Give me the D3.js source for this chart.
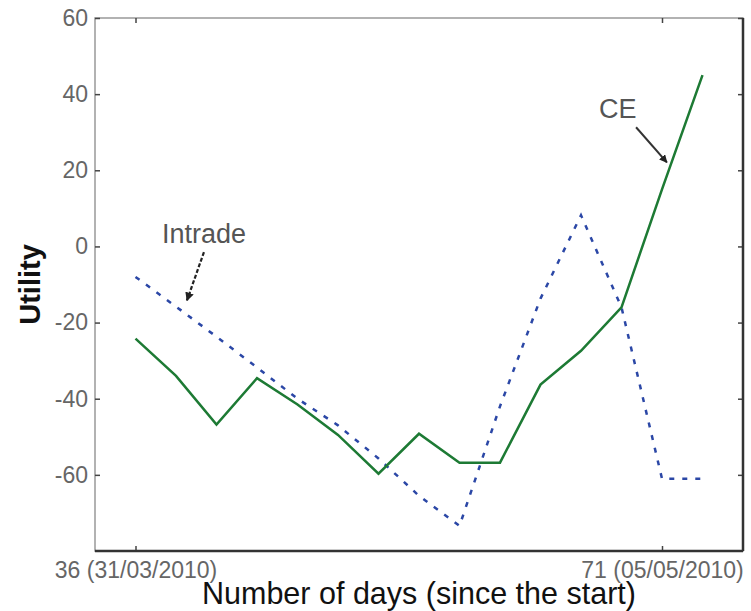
<!DOCTYPE html>
<html>
<head>
<meta charset="utf-8">
<script src="https://cdn.jsdelivr.net/npm/d3@7"></script>
<style>
    body { margin: 0; background: #fff; }
    text { font-family: "Liberation Sans", Arial, sans-serif; }
</style>
</head>
<body>
<svg id="chart" width="751" height="611"></svg>
<script>
// sample index (x), utility values
let points = [1, 2, 3, 4, 5, 6, 7, 8, 9, 10, 11, 12, 13, 14, 15];
let ce = [-24.2, -34, -46.8, -34.6, -41.5, -49.5, -59.7, -49.2, -56.8, -56.8, -36.3, -27.4, -16, 15, 45];
let intrade = [-8, -15.8, -23.7, -31.8, -40, -47, -55.7, -65.5, -73.4, -42, -13.7, 8.2, -16, -61, -61];

let x_ticks = [1, 14];
let x_tick_labels = ["36 (31/03/2010)", "71 (05/05/2010)"];
let y_ticks = [-60, -40, -20, 0, 20, 40, 60];

let width = 751, height = 611;
let margin = { top: 18, right: 8, bottom: 60, left: 95 };
let font = '"Liberation Sans", Arial, sans-serif';

let svg = d3.select("#chart");

let x = d3.scaleLinear()
    .domain([0, 16])
    .range([margin.left, width - margin.right]);
let y = d3.scaleLinear()
    .domain([-80, 60])
    .range([height - margin.bottom, margin.top]);

// arrow heads
let defs = svg.append("defs");
defs.append("marker")
    .attr("id", "head")
    .attr("viewBox", "0 0 10 10")
    .attr("refX", 9).attr("refY", 5)
    .attr("markerWidth", 4).attr("markerHeight", 4)
    .attr("orient", "auto")
    .append("path")
    .attr("d", "M0,0 L10,5 L0,10 z")
    .attr("fill", "#222");

// frame: light top/left, dark bottom/right
svg.append("rect")
    .attr("x", x.range()[0])
    .attr("y", y.range()[1])
    .attr("width", x.range()[1] - x.range()[0])
    .attr("height", y.range()[0] - y.range()[1])
    .attr("fill", "none")
    .attr("stroke", "#999")
    .attr("stroke-width", 1.5);

let y_axis = d3.axisLeft(y).tickValues(y_ticks).tickSize(-5).tickPadding(7)
    .tickFormat(d => String(d));
svg.append("g")
    .attr("transform", `translate(${margin.left},0)`)
    .call(y_axis)
    .call(g => g.select(".domain").remove());

svg.append("g")
    .attr("transform", `translate(${width - margin.right},0)`)
    .call(d3.axisRight(y).tickValues(y_ticks).tickSize(-5).tickFormat(""))
    .call(g => g.select(".domain").remove());

let x_axis = d3.axisBottom(x).tickValues(x_ticks).tickSize(-5).tickPadding(11)
    .tickFormat((d, i) => x_tick_labels[i]);
svg.append("g")
    .attr("transform", `translate(0,${height - margin.bottom})`)
    .call(x_axis)
    .call(g => g.select(".domain").remove());

svg.append("g")
    .attr("transform", `translate(0,${margin.top})`)
    .call(d3.axisTop(x).tickValues(x_ticks).tickSize(-5).tickFormat(""))
    .call(g => g.select(".domain").remove());

svg.selectAll("g").attr("font-family", font);
svg.selectAll(".tick line").attr("stroke", "#444").attr("stroke-width", 1.5);
svg.selectAll(".tick text")
    .attr("fill", "#666")
    .style("font-size", "23px");

svg.append("line")
    .attr("x1", x.range()[0]).attr("x2", x.range()[1])
    .attr("y1", y.range()[0]).attr("y2", y.range()[0])
    .attr("stroke", "#333").attr("stroke-width", 2.5);
svg.append("line")
    .attr("x1", x.range()[1]).attr("x2", x.range()[1])
    .attr("y1", y.range()[1]).attr("y2", y.range()[0])
    .attr("stroke", "#333").attr("stroke-width", 2.5);

// series
let line = d3.line()
    .x((d, i) => x(points[i]))
    .y(d => y(d));

svg.append("path")
    .datum(intrade)
    .attr("d", line)
    .attr("fill", "none")
    .attr("stroke", "#2b47a6")
    .attr("stroke-width", 2.5)
    .attr("stroke-dasharray", "5,8");

svg.append("path")
    .datum(ce)
    .attr("d", line)
    .attr("fill", "none")
    .attr("stroke", "#1d7a34")
    .attr("stroke-width", 2.5);

// annotations
svg.append("text")
    .attr("x", x(2.69)).attr("y", y(0.8))
    .attr("text-anchor", "middle")
    .attr("fill", "#555")
    .style("font-size", "27px")
    .text("Intrade");
svg.append("line")
    .attr("x1", x(2.69)).attr("y1", y(-1.5))
    .attr("x2", x(2.27)).attr("y2", y(-14.2))
    .attr("stroke", "#222").attr("stroke-width", 2.2)
    .attr("stroke-dasharray", "4,2")
    .attr("marker-end", "url(#head)");

svg.append("text")
    .attr("x", x(12.91)).attr("y", y(33.7))
    .attr("text-anchor", "middle")
    .attr("fill", "#555")
    .style("font-size", "27px")
    .text("CE");
svg.append("line")
    .attr("x1", x(13.36)).attr("y1", y(31.3))
    .attr("x2", x(14.12)).attr("y2", y(22.1))
    .attr("stroke", "#333").attr("stroke-width", 2)
    .attr("marker-end", "url(#head)");

// axis titles
svg.append("text")
    .attr("x", 419)
    .attr("y", 604)
    .attr("text-anchor", "middle")
    .attr("fill", "#111")
    .style("font-size", "30.5px")
    .text("Number of days (since the start)");

svg.append("text")
    .attr("transform", `translate(40,${y(-10)}) rotate(-90)`)
    .attr("text-anchor", "middle")
    .attr("fill", "#111")
    .style("font-size", "29px")
    .style("font-weight", "bold")
    .text("Utility");
</script>
</body>
</html>
